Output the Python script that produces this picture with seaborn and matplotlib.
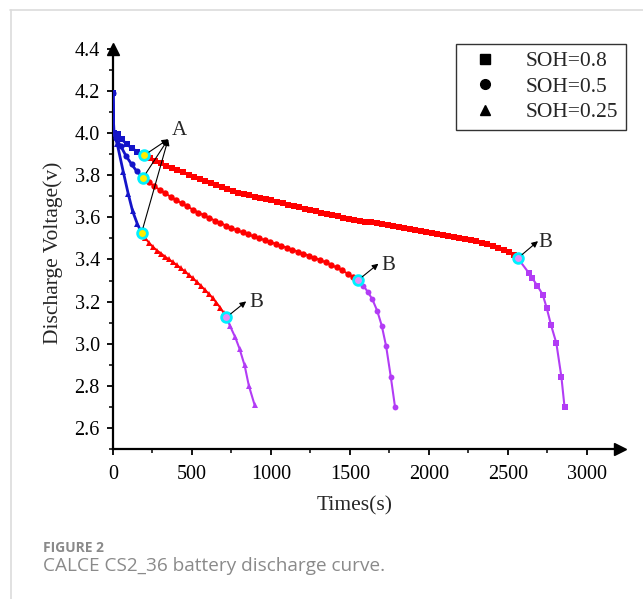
import matplotlib
matplotlib.use("Agg")
import matplotlib.pyplot as plt
from matplotlib.lines import Line2D
import pandas as pd
import seaborn as sns

# ---- data (time in s, voltage in V) ----
# SOH = 0.8 : initial drop / plateau / final drop
t08_a = [0, 5, 33, 55, 86, 122, 155, 198]
v08_a = [4.19, 4.00, 3.995, 3.971, 3.948, 3.927, 3.911, 3.895]
t08_b = [198, 233, 268, 303, 338, 373, 408, 443, 478, 513,
         548, 583, 618, 653, 688, 723, 758, 793, 828, 863,
         898, 933, 968, 1003, 1038, 1073, 1108, 1143, 1178, 1213,
         1248, 1283, 1318, 1353, 1388, 1423, 1458, 1493, 1528, 1563,
         1598, 1633, 1668, 1703, 1738, 1773, 1808, 1843, 1878, 1913,
         1948, 1983, 2018, 2053, 2088, 2123, 2158, 2193, 2228, 2263,
         2298, 2333, 2368, 2403, 2438, 2473, 2508, 2535, 2562]
v08_b = [3.895, 3.882, 3.869, 3.857, 3.845, 3.834, 3.823, 3.813, 3.803, 3.793,
         3.782, 3.773, 3.763, 3.754, 3.745, 3.735, 3.725, 3.718, 3.711, 3.705,
         3.698, 3.693, 3.687, 3.681, 3.674, 3.668, 3.661, 3.654, 3.647, 3.641,
         3.634, 3.628, 3.622, 3.617, 3.611, 3.605, 3.599, 3.593, 3.589, 3.584,
         3.580, 3.576, 3.572, 3.568, 3.564, 3.559, 3.555, 3.550, 3.545, 3.541,
         3.536, 3.532, 3.527, 3.522, 3.517, 3.511, 3.507, 3.502, 3.497, 3.492,
         3.486, 3.479, 3.472, 3.464, 3.455, 3.446, 3.434, 3.421, 3.406]
t08_c = [2562, 2631, 2654, 2686, 2720, 2745, 2772, 2806, 2838, 2858]
v08_c = [3.406, 3.337, 3.311, 3.275, 3.233, 3.170, 3.090, 3.003, 2.843, 2.699]

# SOH = 0.5
t05_a = [0, 5, 17, 48, 82, 118, 149, 191]
v05_a = [4.19, 4.00, 3.976, 3.940, 3.892, 3.852, 3.820, 3.789]
t05_b = [191, 225, 260, 295, 330, 365, 400, 435, 470, 505, 540, 575, 610, 645, 680,
         715, 750, 785, 820, 855, 890, 925, 960, 995, 1030, 1065, 1100, 1135, 1170,
         1205, 1240, 1275, 1310, 1345, 1380, 1415, 1450, 1485, 1520, 1550]
v05_b = [3.789, 3.768, 3.749, 3.731, 3.714, 3.698, 3.682, 3.667, 3.652, 3.637, 3.623,
         3.610, 3.597, 3.585, 3.573, 3.561, 3.549, 3.539, 3.529, 3.519, 3.510, 3.501,
         3.492, 3.483, 3.474, 3.465, 3.456, 3.447, 3.437, 3.428, 3.418, 3.408, 3.398,
         3.387, 3.375, 3.362, 3.348, 3.333, 3.317, 3.301]
t05_c = [1550, 1584, 1613, 1642, 1672, 1701, 1729, 1758, 1785]
v05_c = [3.301, 3.276, 3.246, 3.210, 3.157, 3.086, 2.987, 2.844, 2.700]

# SOH = 0.25
t025_a = [0, 5, 27, 65, 97, 124, 155, 181]
v025_a = [4.19, 4.00, 3.948, 3.816, 3.710, 3.630, 3.567, 3.527]
t025_b = [181, 205, 230, 255, 280, 305, 330, 355, 380, 405, 430, 455, 480, 505, 530,
          555, 580, 605, 630, 655, 680, 700, 717]
v025_b = [3.527, 3.500, 3.478, 3.458, 3.442, 3.428, 3.413, 3.400, 3.387, 3.373, 3.358,
          3.343, 3.327, 3.311, 3.294, 3.276, 3.257, 3.238, 3.218, 3.195, 3.170, 3.147,
          3.125]
t025_c = [717, 742, 774, 801, 833, 860, 896]
v025_c = [3.125, 3.082, 3.030, 2.976, 2.897, 2.800, 2.710]

soh_labels = ["SOH=0.8", "SOH=0.5", "SOH=0.25"]
soh_markers = ["s", "o", "^"]

# turning points A (end of initial drop) and B (start of final drop)
pts_a_t = [198, 191, 181]
pts_a_v = [3.895, 3.789, 3.527]
pts_b_t = [2562, 1550, 717]
pts_b_v = [3.406, 3.301, 3.125]

seg_colors = {"a": "#1414c8", "b": "#ff0000", "c": "#b23cf5"}

rows = []
for lab, segs in zip(soh_labels, [
        [(t08_a, v08_a), (t08_b, v08_b), (t08_c, v08_c)],
        [(t05_a, v05_a), (t05_b, v05_b), (t05_c, v05_c)],
        [(t025_a, v025_a), (t025_b, v025_b), (t025_c, v025_c)]]):
    for stage, (tt, vv) in zip("abc", segs):
        for t, v in zip(tt, vv):
            rows.append((lab, stage, t, v))
df = pd.DataFrame(rows, columns=["soh", "stage", "time", "voltage"])

sns.set_theme(style="ticks")
plt.rcParams["font.family"] = ["Liberation Serif", "DejaVu Serif"]

fig = plt.figure(figsize=(6.43, 5.99), dpi=100)
ax = fig.add_axes([113 / 643, 0.2504, 507 / 643, 0.668])

# marker size per stage and shape
msize = {"a": {"s": 5.0, "o": 4.4, "^": 5.0},
         "b": {"s": 4.8, "o": 4.6, "^": 5.0},
         "c": {"s": 4.4, "o": 4.2, "^": 4.8}}
lwidth = {"a": 2.0, "b": 1.4, "c": 1.5}
for lab, mk in zip(soh_labels, soh_markers):
    for stage in "abc":
        sub = df[(df.soh == lab) & (df.stage == stage)]
        sns.lineplot(data=sub, x="time", y="voltage", ax=ax, sort=False,
                     color=seg_colors[stage], marker=mk, markersize=msize[stage][mk],
                     markeredgewidth=0, linewidth=lwidth[stage],
                     estimator=None, legend=False, zorder=3)

# highlighted turning points
ax.plot(pts_a_t, pts_a_v, "o", ms=7, mfc="#ffee00", mec="#00f0ff", mew=2.0, zorder=6)
ax.plot(pts_b_t, pts_b_v, "o", ms=7, mfc="#e58cf5", mec="#00f0ff", mew=2.0, zorder=6)

arrow = dict(arrowstyle="-|>", color="black", lw=0.8, mutation_scale=9,
             shrinkA=4, shrinkB=0)
tip_a = (349, 3.971)
for t, v in zip(pts_a_t, pts_a_v):
    ax.annotate("", xy=tip_a, xytext=(t, v), arrowprops=arrow, zorder=7)
ax.text(423, 4.011, "A", fontsize=15, ha="center", va="center")

b_tips = [(2690, 3.487), (1680, 3.380), (843, 3.201)]
b_text = [(2736, 3.482), (1741, 3.372), (910, 3.195)]
for (t, v), tip, tx in zip(zip(pts_b_t, pts_b_v), b_tips, b_text):
    ax.annotate("", xy=tip, xytext=(t, v), arrowprops=arrow, zorder=7)
    ax.text(tx[0], tx[1], "B", fontsize=15, ha="center", va="center")

# axes styling
ax.set_xlim(0, 3209)
ax.set_ylim(2.5, 4.4)
ax.set_xticks([0, 500, 1000, 1500, 2000, 2500, 3000])
ax.set_xticks([250, 750, 1250, 1750, 2250, 2750], minor=True)
ax.set_yticks([2.6, 2.8, 3.0, 3.2, 3.4, 3.6, 3.8, 4.0, 4.2, 4.4])
ax.set_yticklabels(["2.6", "2.8", "3.0", "3.2", "3.4", "3.6", "3.8", "4.0", "4.2", "4.4"])
ax.set_yticks([2.5, 2.7, 2.9, 3.1, 3.3, 3.5, 3.7, 3.9, 4.1, 4.3], minor=True)
ax.tick_params(which="major", direction="out", length=4.5, width=1.3, labelsize=14.5,
               colors="black")
ax.tick_params(axis="x", which="major", pad=7)
ax.tick_params(axis="y", which="major", pad=5)
ax.tick_params(which="minor", direction="out", length=3, width=1.3)
for s in ["top", "right"]:
    ax.spines[s].set_visible(False)
for s in ["left", "bottom"]:
    ax.spines[s].set_linewidth(1.6)
    ax.spines[s].set_color("black")
ax.plot(1, 0, ">", ms=8, color="black", transform=ax.transAxes, clip_on=False, zorder=8)
ax.plot(0, 1, "^", ms=8, color="black", transform=ax.transAxes, clip_on=False, zorder=8)

ax.set_xlabel("Times(s)", fontsize=15.5)
ax.set_ylabel("Discharge Voltage(v)", fontsize=15.5)
ax.xaxis.set_label_coords(0.477, -0.117)
ax.yaxis.set_label_coords(-0.098, 0.49)

handles = [Line2D([], [], marker=m, color="black", linestyle="none", markersize=7)
           for m in soh_markers]
leg = ax.legend(handles, soh_labels, loc="upper right", bbox_to_anchor=(1.012, 1.013),
                borderaxespad=0, fontsize=15.5, frameon=True, fancybox=False,
                edgecolor="black", handletextpad=0.9, borderpad=0.35, labelspacing=0.25)
leg.get_frame().set_linewidth(1.0)

# page frame and caption
fig.add_artist(Line2D([10 / 643, 1], [1 - 10 / 599] * 2, color="#dcdcdc", lw=1.2))
fig.add_artist(Line2D([11 / 643] * 2, [1 - 10 / 599, 0], color="#dcdcdc", lw=1.2))
fig.text(43 / 643, 1 - 548 / 599, "FIGURE 2", fontsize=10, fontweight="bold",
         color="#8a8a8a", family=["Open Sans", "DejaVu Sans"], va="center")
fig.text(43 / 643, 1 - 566 / 599, "CALCE CS2_36 battery discharge curve.", fontsize=13.7,
         color="#8a8a8a", family=["Open Sans", "DejaVu Sans"], va="center")

fig.savefig("out.png", dpi=100, facecolor="white")
